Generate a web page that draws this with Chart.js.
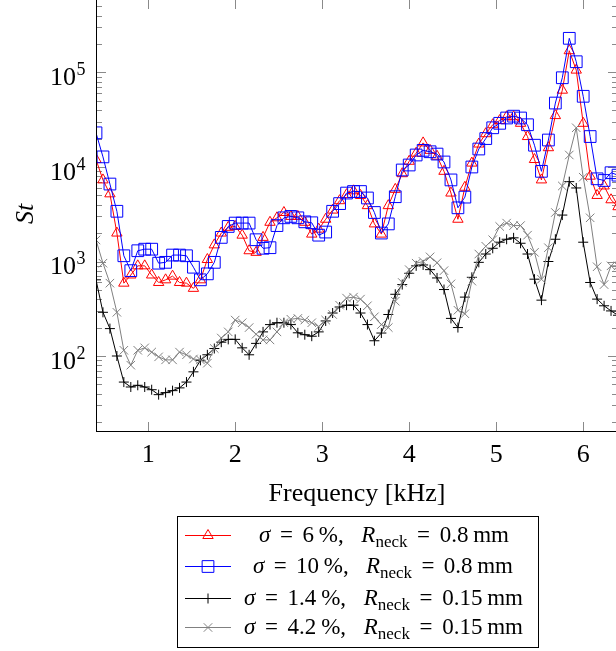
<!DOCTYPE html>
<html>
<head>
<meta charset="utf-8">
<script src="https://cdn.jsdelivr.net/npm/chart.js@4.4.1/dist/chart.umd.min.js"></script>
<style>
  html, body { margin: 0; padding: 0; background: #fff; overflow: hidden; }
  #wrap { width: 630px; height: 651px; }
</style>
</head>
<body>
<div id="wrap"><canvas id="stChart" width="630" height="651"></canvas></div>
<script>
// ── Data (frequency in kHz, St on a log scale) ──
const freq = [
  0.40, 0.48, 0.56, 0.64, 0.72, 0.80, 0.88, 0.96, 1.04, 1.12,
  1.20, 1.28, 1.36, 1.44, 1.52, 1.60, 1.68, 1.76, 1.84, 1.92,
  2.00, 2.08, 2.16, 2.24, 2.32, 2.40, 2.48, 2.56, 2.64, 2.72,
  2.80, 2.88, 2.96, 3.04, 3.12, 3.20, 3.28, 3.36, 3.44, 3.52,
  3.60, 3.68, 3.76, 3.84, 3.92, 4.00, 4.08, 4.16, 4.24, 4.32,
  4.40, 4.48, 4.56, 4.64, 4.72, 4.80, 4.88, 4.96, 5.04, 5.12,
  5.20, 5.28, 5.36, 5.44, 5.52, 5.60, 5.68, 5.76, 5.84, 5.92,
  6.00, 6.08, 6.16, 6.24, 6.32, 6.40
];

// sigma = 6 %, R_neck = 0.8 mm
const stSigma6 = [
  12000, 7300, 5200, 2000, 590, 720, 900, 900, 720, 600,
  640, 700, 600, 590, 520, 640, 1050, 1500, 2000, 2300,
  2350, 1900, 1300, 1250, 1800, 2600, 2900, 3300, 3000, 3000,
  2600, 1950, 2200, 2800, 3500, 4400, 5100, 5600, 5000, 3900,
  2500, 1950, 3900, 5800, 8500, 11500, 14000, 18000, 15000, 13000,
  9000, 5300, 2800, 6100, 11000, 17500, 22500, 28000, 31000, 34000,
  34000, 29000, 21000, 12000, 7300, 16000, 35000, 65000, 170000, 106000,
  29000, 8000, 5000, 6300, 4500, 3800
];

// sigma = 10 %, R_neck = 0.8 mm
const stSigma10 = [
  23000, 12800, 6600, 3400, 1150, 800, 1300, 1350, 1350, 960,
  980, 1170, 1170, 1150, 870, 640, 740, 980, 1800, 2350,
  2550, 2550, 2550, 1700, 1380, 1400, 2400, 2900, 3000, 2900,
  2630, 2570, 1900, 2050, 3400, 4100, 5300, 5500, 5500, 4700,
  3300, 2000, 2500, 4850, 9300, 10500, 13400, 15000, 14500, 13700,
  11300, 7300, 3700, 4800, 10000, 15500, 20000, 26000, 29000, 33000,
  34500, 33000, 28000, 17000, 9000, 19300, 47500, 88000, 230000, 130000,
  56000, 21000, 7500, 7200, 8700, 8200
];

// sigma = 1.4 %, R_neck = 0.15 mm
const stSigma14 = [
  640, 290, 195, 100, 53, 47, 49, 47, 44, 39,
  41, 43, 46, 53, 68, 90, 103, 120, 140, 150,
  150, 122, 103, 136, 180, 215, 225, 225, 215, 176,
  168, 162, 180, 235, 285, 330, 345, 345, 285, 215,
  145, 175, 275, 450, 570, 750, 900, 920, 820, 670,
  505, 250, 200, 420, 680, 980, 1200, 1380, 1600, 1720,
  1780, 1560, 1200, 650, 390, 1000, 1720, 3100, 7000, 6000,
  1600, 600, 400, 340, 300, 270
];

// sigma = 4.2 %, R_neck = 0.15 mm
const stSigma42 = [
  1690, 960, 590, 290, 115, 80, 115, 122, 110, 98,
  91, 91, 110, 103, 93, 91, 84, 120, 155, 180,
  240, 225, 200, 170, 148, 148, 180, 225, 245, 250,
  240, 225, 205, 240, 275, 345, 410, 420, 400, 340,
  260, 215, 200, 380, 600, 820, 960, 1000, 1120, 970,
  800, 580, 305, 280, 620, 1200, 1450, 1700, 2350, 2550,
  2400, 2400, 1900, 1250, 650, 1400, 3300, 6300, 13400, 26000,
  7800, 2900, 880, 570, 900, 900
];

const xTicks = [1, 2, 3, 4, 5, 6];
const yExponents = [2, 3, 4, 5];
const sigmaLabels = ['6', '10', '1.4', '4.2'];
const neckLabels = ['0.8', '0.8', '0.15', '0.15'];

const serif = '"Liberation Serif", "Times New Roman", serif';

// Series look, in pgfplots order (last one on top)
const series = [
  { values: stSigma6,  color: '#ff0000', style: 'triangle', radius: 6 },
  { values: stSigma10, color: '#0000ff', style: 'rect',     radius: 8.3 },
  { values: stSigma14, color: '#000000', style: 'cross',    radius: 5 },
  { values: stSigma42, color: '#808080', style: 'crossRot', radius: 6 }
];

function toPoints(values) {
  return freq.map((f, i) => ({ x: f, y: values[i] }));
}

// draw text pieces between x0 and x1; spare room goes into the gaps
function drawPieces(ctx, pieces, x0, x1, y) {
  let w = 0, weights = 0;
  pieces.forEach(p => { ctx.font = p.font; w += ctx.measureText(p.t).width + (p.gap || 0); weights += (p.gap || 0); });
  const extra = Math.max(0, (x1 - x0) - w);
  let x = x0;
  pieces.forEach(p => {
    ctx.font = p.font;
    ctx.fillText(p.t, x, y + (p.dy || 0));
    const g = p.gap || 0;
    x += ctx.measureText(p.t).width + g + (weights ? extra * g / weights : 0);
  });
}

// ── Axes, ticks, labels and legend in pgfplots style ──
const axisDecor = {
  id: 'axisDecor',
  beforeDatasetsDraw(chart) {
    const { ctx, chartArea: a, scales: { x, y } } = chart;
    ctx.save();
    ctx.strokeStyle = '#8a8a8a';
    ctx.lineWidth = 1;
    ctx.beginPath();
    xTicks.forEach(v => {
      const px = Math.round(x.getPixelForValue(v)) + 0.5;
      ctx.moveTo(px, a.bottom); ctx.lineTo(px, a.bottom - 10);
      ctx.moveTo(px, a.top); ctx.lineTo(px, a.top + 9);
    });
    for (let e = 1; e <= 5; e++) {
      for (let m = 1; m <= 9; m++) {
        const v = m * Math.pow(10, e);
        if (v < y.min || v > y.max) continue;
        const py = Math.round(y.getPixelForValue(v)) + 0.5;
        const len = m === 1 ? 10 : 6;
        ctx.moveTo(a.left, py); ctx.lineTo(a.left + len, py);
        ctx.moveTo(a.right, py); ctx.lineTo(a.right - len, py);
      }
    }
    ctx.stroke();
    ctx.restore();
  },
  afterDraw(chart) {
    const { ctx, chartArea: a, scales: { x, y } } = chart;
    ctx.save();

    // axis frame (top edge sits just above the canvas)
    ctx.strokeStyle = '#000';
    ctx.lineWidth = 1;
    ctx.strokeRect(Math.round(a.left) + 0.5, a.top - 1.5, a.right - a.left, a.bottom - a.top + 1);

    ctx.fillStyle = '#000';

    // x tick labels
    ctx.font = '26px ' + serif;
    ctx.textAlign = 'center';
    ctx.textBaseline = 'alphabetic';
    xTicks.forEach(v => ctx.fillText(String(v), x.getPixelForValue(v), 462));

    // y tick labels 10^n
    yExponents.forEach(e => {
      const py = y.getPixelForValue(Math.pow(10, e));
      ctx.textAlign = 'right';
      ctx.font = '26px ' + serif;
      ctx.fillText('10', 76, py + 12.5);
      ctx.textAlign = 'left';
      ctx.font = '18px ' + serif;
      ctx.fillText(String(e), 76.5, py + 2.5);
    });

    // axis titles
    ctx.textAlign = 'center';
    ctx.font = '26px ' + serif;
    ctx.fillText('Frequency [kHz]', (a.left + a.right) / 2, 501);

    ctx.save();
    ctx.translate(33, (a.top + a.bottom) / 2 - 2);
    ctx.rotate(-Math.PI / 2);
    ctx.font = 'italic 26px ' + serif;
    ctx.fillText('St', 0, 0);
    ctx.restore();

    // legend
    ctx.strokeStyle = '#000';
    ctx.lineWidth = 1;
    ctx.strokeRect(177.5, 516.5, 361, 131);
    const bases = [542, 573, 605, 634];
    const spans = [[259, 509], [253, 513], [244, 523], [244, 523]];
    const rom = '23px ' + serif, ita = 'italic 23px ' + serif, sub = '17px ' + serif;
    series.forEach((s, i) => {
      const yb = bases[i];
      const ym = yb - 6.5;
      ctx.strokeStyle = s.color;
      ctx.beginPath();
      ctx.moveTo(185, ym); ctx.lineTo(231, ym);
      ctx.stroke();
      ctx.fillStyle = 'rgba(0,0,0,0)';
      Chart.helpers.drawPoint(ctx, { pointStyle: s.style, radius: s.radius, rotation: 0, borderWidth: 1 }, 208, ym);
      ctx.fillStyle = '#000';
      ctx.textAlign = 'left';
      drawPieces(ctx, [
        { t: 'σ', font: ita, gap: 6 },
        { t: '=', font: rom, gap: 6 },
        { t: sigmaLabels[i], font: rom, gap: 3 },
        { t: '%,', font: rom, gap: 11 },
        { t: 'R', font: ita, gap: 0 },
        { t: 'neck', font: sub, dy: 5, gap: 6 },
        { t: '=', font: rom, gap: 6 },
        { t: neckLabels[i], font: rom, gap: 3 },
        { t: 'mm', font: rom }
      ], spans[i][0], spans[i][1], yb);
    });

    ctx.restore();
  }
};

new Chart(document.getElementById('stChart').getContext('2d'), {
  type: 'line',
  data: {
    datasets: series.map((s, i) => ({
      data: toPoints(s.values),
      borderColor: s.color,
      borderWidth: 1,
      tension: 0,
      pointStyle: s.style,
      pointRadius: s.radius,
      pointHoverRadius: s.radius,
      pointBorderColor: s.color,
      pointBackgroundColor: 'rgba(0,0,0,0)',
      pointBorderWidth: 1,
      order: series.length - i
    }))
  },
  options: {
    responsive: false,
    animation: false,
    events: [],
    layout: { autoPadding: false, padding: { left: 96, right: 12, top: 0, bottom: 219 } },
    plugins: { legend: { display: false }, tooltip: { enabled: false } },
    scales: {
      x: { type: 'linear', min: 0.4, max: 6.4, display: false },
      y: { type: 'logarithmic', min: 15.7, max: 585000, display: false }
    }
  },
  plugins: [axisDecor]
});
</script>
</body>
</html>
